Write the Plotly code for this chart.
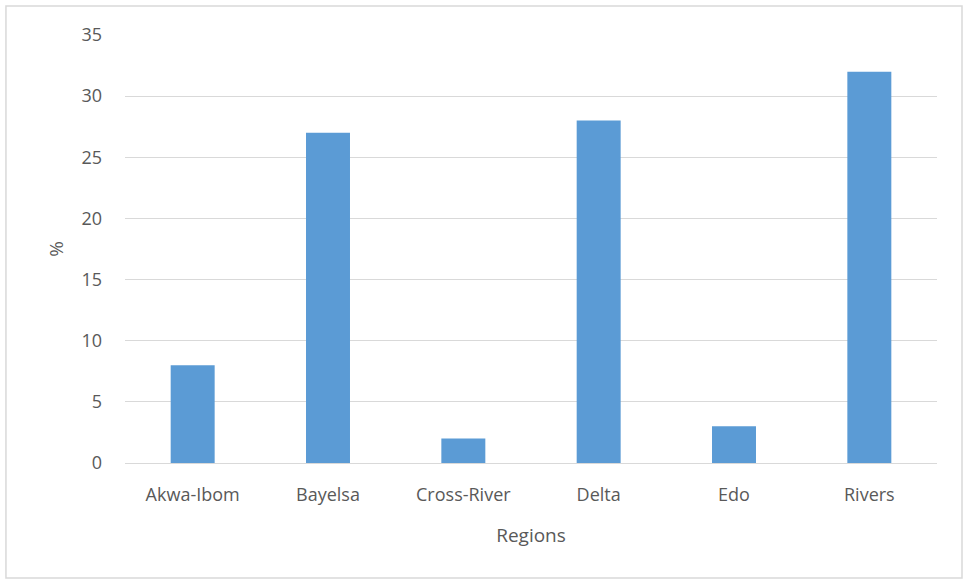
import plotly.graph_objects as go

regions = ["Akwa-Ibom", "Bayelsa", "Cross-River", "Delta", "Edo", "Rivers"]
percent = [8, 27, 2, 28, 3, 32]
y_ticks = [0, 5, 10, 15, 20, 25, 30, 35]

FONT = "Open Sans, Liberation Sans, Arial, sans-serif"
GRAY = "#595959"

fig = go.Figure(go.Bar(x=regions, y=percent, marker=dict(color="#5B9BD5", line=dict(width=0)),
                       showlegend=False))

fig.update_layout(
    width=965, height=581,
    margin=dict(l=125, r=28, t=35, b=118),
    paper_bgcolor="white", plot_bgcolor="white",
    bargap=0.675,
    font=dict(family=FONT, size=18, color=GRAY),
    xaxis=dict(showgrid=False, showline=True, linecolor="#d9d9d9", linewidth=1,
               ticks="", ticklabelstandoff=15, tickfont=dict(size=18, color=GRAY),
               title=dict(text="Regions", font=dict(size=19, color=GRAY), standoff=24)),
    yaxis=dict(range=[0, 35], tickvals=y_ticks, showgrid=True, gridcolor="#d9d9d9", gridwidth=1,
               zeroline=False, showline=False, ticks="", ticklabelstandoff=22,
               tickfont=dict(size=18, color=GRAY),
               title=dict(text="%", font=dict(size=19, color=GRAY), standoff=12)),
    shapes=[dict(type="rect", xref="paper", yref="paper",
                 x0=-0.1466, x1=1.0308, y0=-0.2687, y1=1.0678,
                 line=dict(color="#d9d9d9", width=1.5), fillcolor="rgba(0,0,0,0)", layer="below")],
)

fig.write_html("out.html")
